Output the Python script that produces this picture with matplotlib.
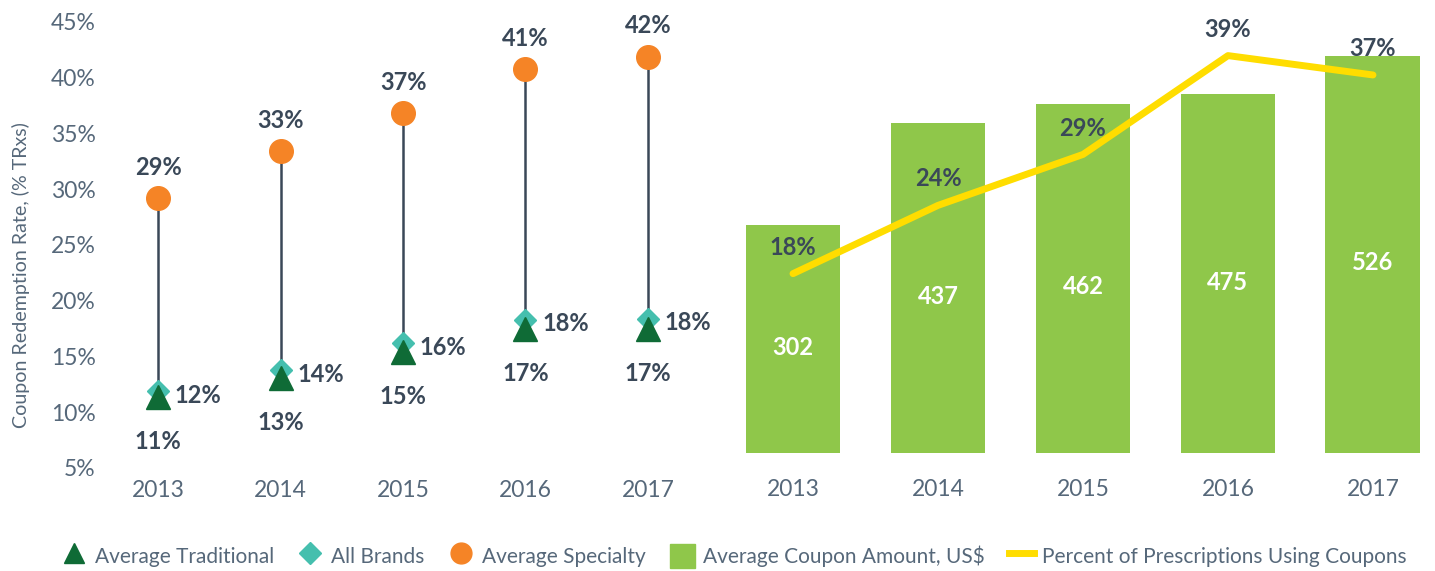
import matplotlib.pyplot as plt
from matplotlib.lines import Line2D
from matplotlib.patches import Patch

plt.rcParams['font.family'] = ['Lato', 'DejaVu Sans']

years = ['2013', '2014', '2015', '2016', '2017']

# left panel: coupon redemption rate (%)
traditional = [11.4, 13.1, 15.4, 17.5, 17.5]
all_brands = [11.9, 13.8, 16.2, 18.3, 18.4]
specialty = [29.2, 33.4, 36.8, 40.8, 41.9]
traditional_lbl = ['11%', '13%', '15%', '17%', '17%']
all_brands_lbl = ['12%', '14%', '16%', '18%', '18%']
specialty_lbl = ['29%', '33%', '37%', '41%', '42%']

# right panel
coupon_amount = [302, 437, 462, 475, 526]
pct_using = [17.6, 24.3, 29.3, 39.0, 37.1]
pct_using_lbl = ['18%', '24%', '29%', '39%', '37%']

TICK = '#56687a'
DARK = '#3a4858'
C_TRAD = '#0f6b36'
C_ALL = '#45bfae'
C_SPEC = '#f58426'
C_BAR = '#8fc74a'
C_LINE = '#ffdd00'

fig = plt.figure(figsize=(14.35, 5.71), dpi=100)

ax = fig.add_axes([0.0676, 0.1804, 0.4265, 0.7811])
x = list(range(len(years)))
for i in x:
    ax.plot([i, i], [all_brands[i], specialty[i]], color=DARK, lw=1.8, zorder=1)
ax.plot(x, specialty, 'o', color=C_SPEC, ms=17, zorder=3)
ax.plot(x, all_brands, 'D', color=C_ALL, ms=11, zorder=3)
ax.plot(x, traditional, '^', color=C_TRAD, ms=17, zorder=4)
for i in x:
    ax.annotate(specialty_lbl[i], (i, specialty[i]), xytext=(0, 22), textcoords='offset points',
                ha='center', va='center', fontsize=17, fontweight='bold', color=DARK)
    ax.annotate(all_brands_lbl[i], (i, all_brands[i]), xytext=(12, -3), textcoords='offset points',
                ha='left', va='center', fontsize=17, fontweight='bold', color=DARK)
    ax.annotate(traditional_lbl[i], (i, traditional[i]), xytext=(0, -32), textcoords='offset points',
                ha='center', va='center', fontsize=17, fontweight='bold', color=DARK)
ax.set_xlim(-0.5, 4.5)
ax.set_ylim(5, 45)
ax.set_yticks(range(5, 46, 5))
ax.set_yticklabels([f'{v}%' for v in range(5, 46, 5)])
ax.set_xticks(x)
ax.set_xticklabels(years)
ax.tick_params(length=0, labelsize=16.5, colors=TICK)
ax.tick_params(axis='x', pad=9)
ax.tick_params(axis='y', pad=1)
for s in ax.spines.values():
    s.set_visible(False)
fig.text(21 / 1435, 1 - 275 / 571, 'Coupon Redemption Rate, (% TRxs)', rotation=90,
         ha='center', va='center', fontsize=14.1, color=TICK)

ax2 = fig.add_axes([0.5122, 0.2067, 0.485, 0.7548])
bars = ax2.bar(x, coupon_amount, width=0.655, color=C_BAR, zorder=1)
for i in x:
    ax2.annotate(str(coupon_amount[i]), (i, coupon_amount[i] / 2), xytext=(0, -6), textcoords='offset points',
                 ha='center', va='center', fontsize=17, fontweight='bold', color='white')
ax2.set_xlim(-0.4, 4.4)
ax2.set_ylim(0, 571)
ax2.set_xticks(x)
ax2.set_xticklabels(years)
ax2.tick_params(length=0, labelsize=16.5, colors=TICK)
ax2.tick_params(axis='x', pad=19)
ax2.set_yticks([])
for s in ax2.spines.values():
    s.set_visible(False)

ax3 = ax2.twinx()
ax3.plot(x, pct_using, color=C_LINE, lw=5, solid_capstyle='round', zorder=3)
for i in x:
    ax3.annotate(pct_using_lbl[i], (i, pct_using[i]), xytext=(0, 19), textcoords='offset points',
                 ha='center', va='center', fontsize=17, fontweight='bold', color=DARK)
ax3.set_ylim(0, 42.3)
ax3.set_yticks([])
for s in ax3.spines.values():
    s.set_visible(False)

handles = [
    Line2D([], [], marker='^', color=C_TRAD, ls='none', ms=15),
    Line2D([], [], marker='D', color=C_ALL, ls='none', ms=11),
    Line2D([], [], marker='o', color=C_SPEC, ls='none', ms=15),
    Patch(color=C_BAR),
    Line2D([], [], color=C_LINE, lw=5),
]
labels = ['Average Traditional', 'All Brands', 'Average Specialty',
          'Average Coupon Amount, US$', 'Percent of Prescriptions Using Coupons']
leg = fig.legend(handles, labels, loc='lower center', bbox_to_anchor=(0.5115, -0.027), ncol=5,
                 frameon=False, fontsize=15, handlelength=1.2, handletextpad=0.4,
                 columnspacing=1.15, handleheight=1.4)
for t in leg.get_texts():
    t.set_color(TICK)

fig.savefig('out.png', dpi=100)
